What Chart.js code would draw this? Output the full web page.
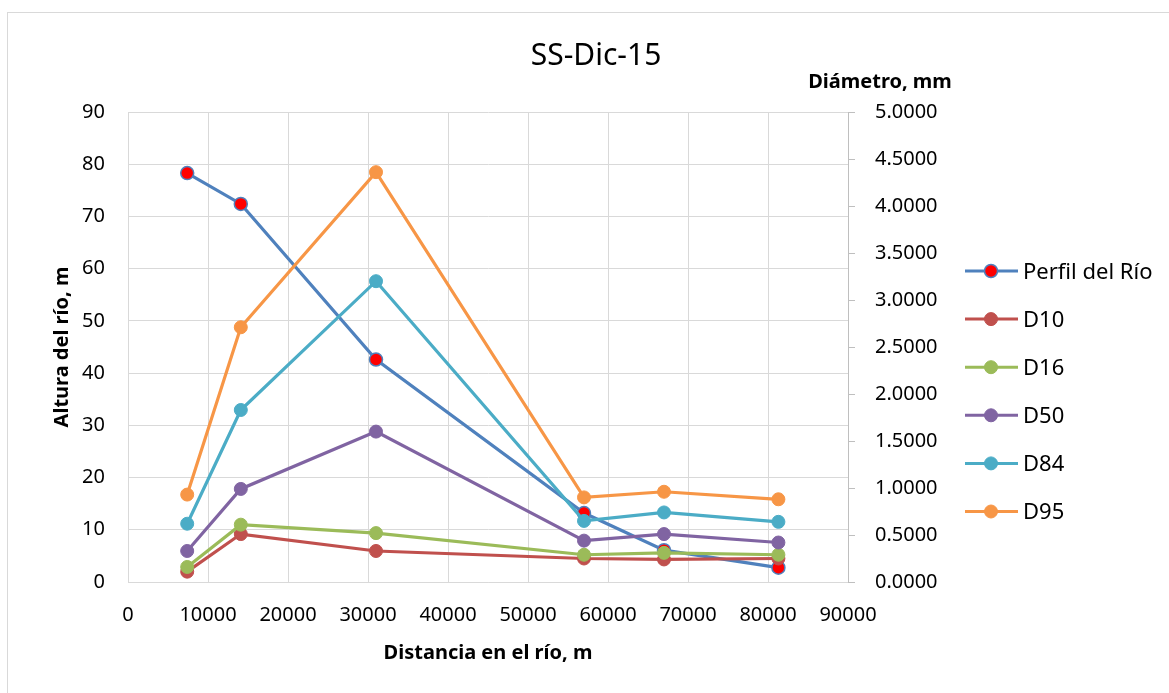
<!DOCTYPE html>
<html>
<head>
<meta charset="utf-8">
<script src="https://cdn.jsdelivr.net/npm/chart.js@4.4.1/dist/chart.umd.min.js"></script>
<style>
    body { margin: 0; background: #fff; overflow: hidden; }
    #frame { position: absolute; left: 7px; top: 12px; width: 1200px; height: 720px; border: 1px solid #d9d9d9; }
    #chart { position: absolute; left: 0; top: 0; }
</style>
</head>
<body>
<div id="frame"></div>
<canvas id="chart" width="1169" height="693"></canvas>
<script>
// distance along the river (m)
const distance = [7400, 14100, 31000, 57000, 67000, 81300];
// river profile height (m), left axis
const perfil = [78.3, 72.4, 42.6, 13.2, 6.1, 2.75];
// grain diameters (mm), right axis
const d10 = [0.11, 0.51, 0.33, 0.25, 0.24, 0.25];
const d16 = [0.16, 0.61, 0.52, 0.29, 0.31, 0.29];
const d50 = [0.33, 0.99, 1.60, 0.44, 0.51, 0.42];
const d84 = [0.62, 1.83, 3.20, 0.65, 0.74, 0.64];
const d95 = [0.93, 2.71, 4.36, 0.90, 0.96, 0.88];

const seriesNames = ['Perfil del Río', 'D10', 'D16', 'D50', 'D84', 'D95'];
const seriesColors = ['#4f81bd', '#c0504d', '#9bbb59', '#8064a2', '#4bacc6', '#f79646'];

const xTicks = { min: 0, max: 90000, step: 10000 };
const yTicks = { min: 0, max: 90, step: 10 };
const y1Ticks = { min: 0, max: 5, step: 0.5 };

Chart.defaults.font.family = "'Noto Sans', sans-serif";
Chart.defaults.color = '#000';

function toPoints(values) {
    return values.map((v, i) => ({ x: distance[i], y: v }));
}

function makeSeries(idx, values, axis) {
    const color = seriesColors[idx];
    return {
        label: seriesNames[idx],
        data: toPoints(values),
        yAxisID: axis,
        borderColor: color,
        backgroundColor: color,
        borderWidth: 3.2,
        pointRadius: 6.5,
        pointHoverRadius: 6.5,
        pointBackgroundColor: color,
        pointBorderColor: color,
        pointBorderWidth: 1,
        tension: 0,
        order: 6 - idx
    };
}

const perfilSeries = makeSeries(0, perfil, 'y');
perfilSeries.pointBackgroundColor = '#ff0000';
perfilSeries.pointBorderWidth = 1.5;

const datasets = [
    perfilSeries,
    makeSeries(1, d10, 'y1'),
    makeSeries(2, d16, 'y1'),
    makeSeries(3, d50, 'y1'),
    makeSeries(4, d84, 'y1'),
    makeSeries(5, d95, 'y1')
];

// legend with line + marker, and the horizontal right-axis title
const extrasPlugin = {
    id: 'extras',
    afterDraw(chart) {
        const ctx = chart.ctx;
        ctx.save();
        ctx.font = "bold 20px 'Noto Sans', sans-serif";
        ctx.fillStyle = '#000';
        ctx.textAlign = 'center';
        ctx.textBaseline = 'alphabetic';
        ctx.fillText('Diámetro, mm', 880, 88);

        ctx.font = "22px 'Noto Sans', sans-serif";
        ctx.textAlign = 'left';
        chart.data.datasets.forEach((ds, i) => {
            const cy = 271 + i * 48.1;
            ctx.strokeStyle = ds.borderColor;
            ctx.lineWidth = 3;
            ctx.beginPath();
            ctx.moveTo(965, cy);
            ctx.lineTo(1018, cy);
            ctx.stroke();
            ctx.beginPath();
            ctx.arc(991, cy, 6.5, 0, Math.PI * 2);
            ctx.fillStyle = ds.pointBackgroundColor;
            ctx.fill();
            ctx.lineWidth = ds.pointBorderWidth;
            ctx.strokeStyle = ds.pointBorderColor;
            ctx.stroke();
            ctx.fillStyle = '#000';
            ctx.fillText(ds.label, 1023, cy + 7.8);
        });
        ctx.restore();
    }
};

new Chart(document.getElementById('chart').getContext('2d'), {
    type: 'line',
    data: { datasets: datasets },
    plugins: [extrasPlugin],
    options: {
        responsive: false,
        animation: false,
        layout: { padding: { top: 13, left: 23, right: 0, bottom: 0 } },
        plugins: {
            legend: { display: false },
            tooltip: { enabled: false },
            title: {
                display: true,
                text: 'SS-Dic-15',
                font: { size: 30, weight: 'normal' },
                color: '#000',
                padding: { top: 25, bottom: 38 }
            }
        },
        scales: {
            x: {
                type: 'linear',
                min: xTicks.min,
                max: xTicks.max,
                ticks: { stepSize: xTicks.step, font: { size: 20 }, padding: 21, maxRotation: 0, callback: (v) => String(v) },
                grid: { color: '#d9d9d9', drawTicks: false },
                border: { color: '#d9d9d9' },
                title: { display: true, text: 'Distancia en el río, m', font: { size: 20, weight: 'bold' }, padding: { bottom: 28 } },
                afterFit: (scale) => { scale.height = 111; }
            },
            y: {
                position: 'left',
                min: yTicks.min,
                max: yTicks.max,
                ticks: { stepSize: yTicks.step, font: { size: 20 }, padding: 23 },
                grid: { color: '#d9d9d9', drawTicks: false },
                border: { color: '#d9d9d9' },
                title: { display: true, text: 'Altura del río, m', font: { size: 20, weight: 'bold' }, padding: { top: 27 } },
                afterFit: (scale) => { scale.width = 105; }
            },
            y1: {
                position: 'right',
                min: y1Ticks.min,
                max: y1Ticks.max,
                ticks: { stepSize: y1Ticks.step, font: { size: 20 }, padding: 20, callback: (v) => v.toFixed(4) },
                grid: { drawOnChartArea: false, drawTicks: true, tickLength: 7, color: '#bfbfbf' },
                border: { color: '#bfbfbf' },
                afterFit: (scale) => { scale.width = 321; }
            }
        }
    }
});
</script>
</body>
</html>
